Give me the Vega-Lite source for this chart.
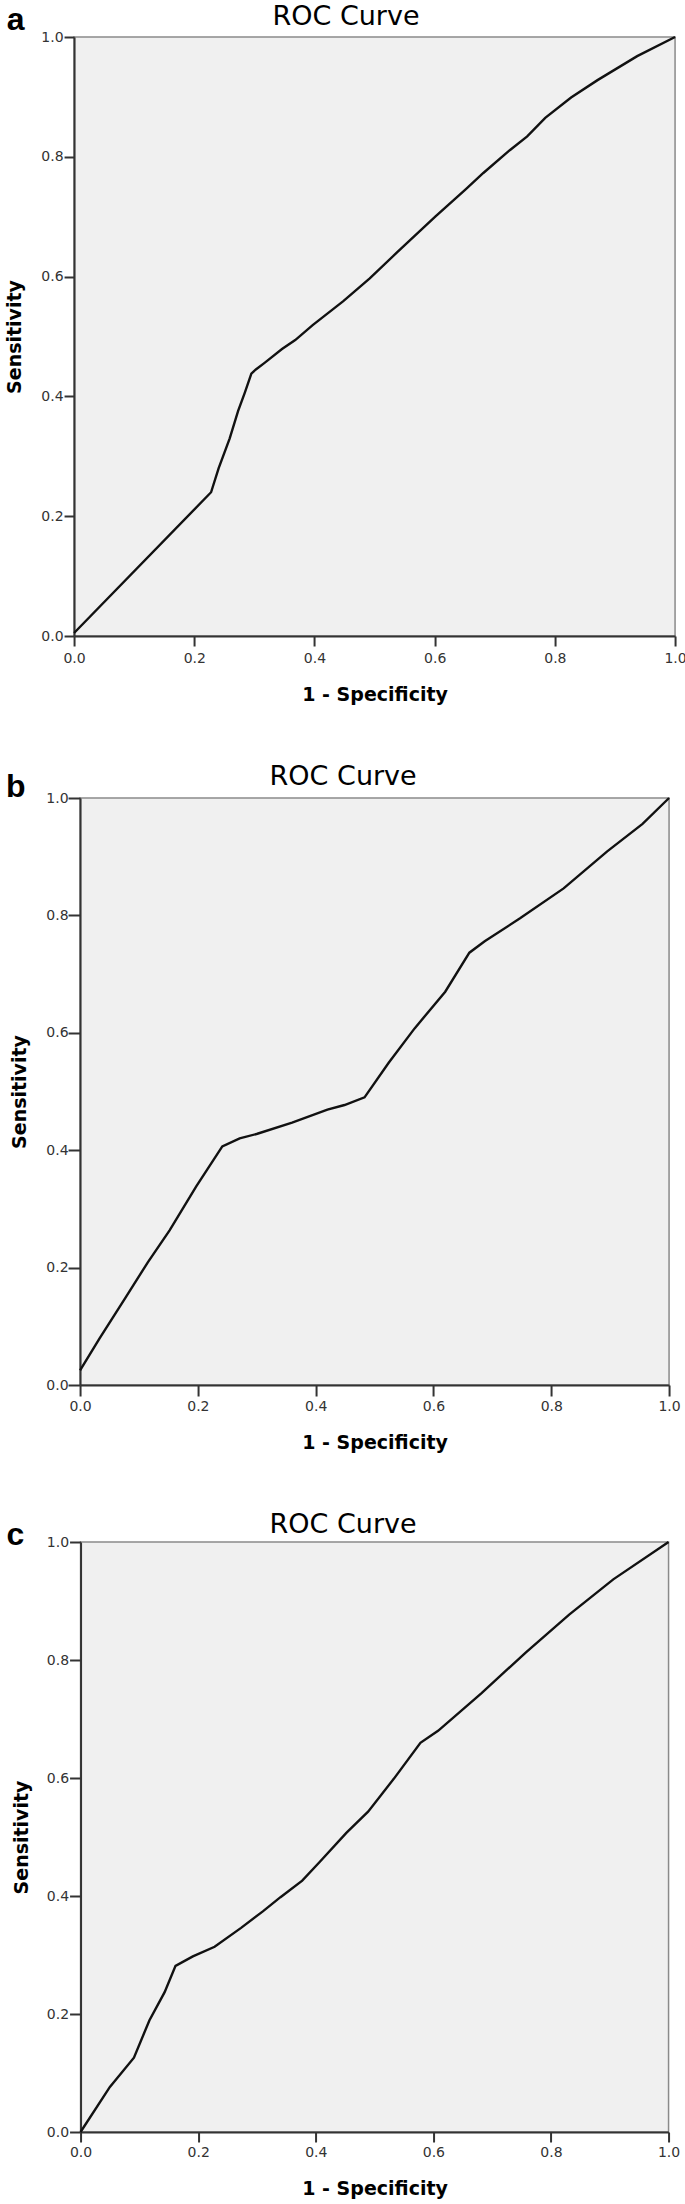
{
  "$schema": "https://vega.github.io/schema/vega-lite/v6.json",
  "padding": {"left": 5, "top": 2, "right": 0, "bottom": 0},
  "background": "white",
  "columns": 1,
  "center": true,
  "spacing": 57,
  "datasets": {
    "roc": [
      {"panel": "a", "fpr": 0, "tpr": 0.005},
      {"panel": "a", "fpr": 0.228, "tpr": 0.24},
      {"panel": "a", "fpr": 0.2405, "tpr": 0.28},
      {"panel": "a", "fpr": 0.259, "tpr": 0.33},
      {"panel": "a", "fpr": 0.273, "tpr": 0.376},
      {"panel": "a", "fpr": 0.284, "tpr": 0.406},
      {"panel": "a", "fpr": 0.295, "tpr": 0.438},
      {"panel": "a", "fpr": 0.3025, "tpr": 0.445},
      {"panel": "a", "fpr": 0.317, "tpr": 0.456},
      {"panel": "a", "fpr": 0.346, "tpr": 0.479},
      {"panel": "a", "fpr": 0.368, "tpr": 0.494},
      {"panel": "a", "fpr": 0.397, "tpr": 0.519},
      {"panel": "a", "fpr": 0.448, "tpr": 0.559},
      {"panel": "a", "fpr": 0.492, "tpr": 0.597},
      {"panel": "a", "fpr": 0.536, "tpr": 0.639},
      {"panel": "a", "fpr": 0.601, "tpr": 0.7},
      {"panel": "a", "fpr": 0.652, "tpr": 0.746},
      {"panel": "a", "fpr": 0.681, "tpr": 0.773},
      {"panel": "a", "fpr": 0.725, "tpr": 0.811},
      {"panel": "a", "fpr": 0.754, "tpr": 0.834},
      {"panel": "a", "fpr": 0.784, "tpr": 0.865},
      {"panel": "a", "fpr": 0.827, "tpr": 0.899},
      {"panel": "a", "fpr": 0.871, "tpr": 0.928},
      {"panel": "a", "fpr": 0.937, "tpr": 0.968},
      {"panel": "a", "fpr": 1, "tpr": 1},
      {"panel": "b", "fpr": 0, "tpr": 0.025},
      {"panel": "b", "fpr": 0.0334, "tpr": 0.0798},
      {"panel": "b", "fpr": 0.078, "tpr": 0.15},
      {"panel": "b", "fpr": 0.115, "tpr": 0.209},
      {"panel": "b", "fpr": 0.152, "tpr": 0.2635},
      {"panel": "b", "fpr": 0.197, "tpr": 0.338},
      {"panel": "b", "fpr": 0.2415, "tpr": 0.4066},
      {"panel": "b", "fpr": 0.271, "tpr": 0.42},
      {"panel": "b", "fpr": 0.301, "tpr": 0.428},
      {"panel": "b", "fpr": 0.36, "tpr": 0.447},
      {"panel": "b", "fpr": 0.42, "tpr": 0.469},
      {"panel": "b", "fpr": 0.449, "tpr": 0.477},
      {"panel": "b", "fpr": 0.483, "tpr": 0.49},
      {"panel": "b", "fpr": 0.524, "tpr": 0.549},
      {"panel": "b", "fpr": 0.568, "tpr": 0.6075},
      {"panel": "b", "fpr": 0.62, "tpr": 0.67},
      {"panel": "b", "fpr": 0.661, "tpr": 0.7365},
      {"panel": "b", "fpr": 0.687, "tpr": 0.756},
      {"panel": "b", "fpr": 0.747, "tpr": 0.795},
      {"panel": "b", "fpr": 0.821, "tpr": 0.846},
      {"panel": "b", "fpr": 0.895, "tpr": 0.909},
      {"panel": "b", "fpr": 0.955, "tpr": 0.956},
      {"panel": "b", "fpr": 1, "tpr": 1},
      {"panel": "c", "fpr": 0, "tpr": 0},
      {"panel": "c", "fpr": 0.0499, "tpr": 0.0764},
      {"panel": "c", "fpr": 0.0908, "tpr": 0.126},
      {"panel": "c", "fpr": 0.117, "tpr": 0.189},
      {"panel": "c", "fpr": 0.143, "tpr": 0.237},
      {"panel": "c", "fpr": 0.1615, "tpr": 0.2816},
      {"panel": "c", "fpr": 0.191, "tpr": 0.2977},
      {"panel": "c", "fpr": 0.228, "tpr": 0.314},
      {"panel": "c", "fpr": 0.273, "tpr": 0.346},
      {"panel": "c", "fpr": 0.31, "tpr": 0.374},
      {"panel": "c", "fpr": 0.34, "tpr": 0.398},
      {"panel": "c", "fpr": 0.377, "tpr": 0.426},
      {"panel": "c", "fpr": 0.407, "tpr": 0.458},
      {"panel": "c", "fpr": 0.452, "tpr": 0.507},
      {"panel": "c", "fpr": 0.489, "tpr": 0.543},
      {"panel": "c", "fpr": 0.533, "tpr": 0.599},
      {"panel": "c", "fpr": 0.578, "tpr": 0.6597},
      {"panel": "c", "fpr": 0.608, "tpr": 0.68},
      {"panel": "c", "fpr": 0.682, "tpr": 0.744},
      {"panel": "c", "fpr": 0.757, "tpr": 0.8125},
      {"panel": "c", "fpr": 0.831, "tpr": 0.877},
      {"panel": "c", "fpr": 0.906, "tpr": 0.9367},
      {"panel": "c", "fpr": 1, "tpr": 1}
    ],
    "labels": [
      {"panel": "a"},
      {"panel": "b"},
      {"panel": "c"}
    ]
  },
  "concat": [
    {
      "width": 601,
      "height": 599,
      "title": {"text": "ROC Curve", "offset": -27},
      "layer": [
        {
          "data": {"name": "roc"},
          "transform": [{"filter": "datum.panel === 'a'"}],
          "mark": {"type": "line", "color": "#111111", "strokeWidth": 2.4},
          "encoding": {
            "x": {"field": "fpr", "type": "quantitative", "scale": {"domain": [0, 1], "nice": false},
                  "axis": {"title": "1 - Specificity", "values": [0, 0.2, 0.4, 0.6, 0.8, 1], "format": ".1f", "tickSize": 10, "labelPadding": 5, "titlePadding": 20}},
            "y": {"field": "tpr", "type": "quantitative", "scale": {"domain": [0, 1], "nice": false},
                  "axis": {"title": "Sensitivity", "values": [0, 0.2, 0.4, 0.6, 0.8, 1], "format": ".1f", "tickSize": 10, "labelPadding": 1, "titlePadding": 16}}
          }
        },
        {
          "data": {"name": "labels"},
          "transform": [{"filter": "datum.panel === 'a'"}],
          "mark": {"type": "text", "align": "left", "baseline": "alphabetic", "font": "Liberation Sans", "fontWeight": "bold", "fontSize": 32, "color": "#000000"},
          "encoding": {
            "text": {"field": "panel"},
            "x": {"datum": -0.112},
            "y": {"datum": 1.0117}
          }
        }
      ]
    },
    {
      "width": 589,
      "height": 587,
      "title": {"text": "ROC Curve", "offset": -20},
      "layer": [
        {
          "data": {"name": "roc"},
          "transform": [{"filter": "datum.panel === 'b'"}],
          "mark": {"type": "line", "color": "#111111", "strokeWidth": 2.4},
          "encoding": {
            "x": {"field": "fpr", "type": "quantitative", "scale": {"domain": [0, 1], "nice": false},
                  "axis": {"title": "1 - Specificity", "values": [0, 0.2, 0.4, 0.6, 0.8, 1], "format": ".1f", "tickSize": 11, "labelPadding": 3, "titlePadding": 20}},
            "y": {"field": "tpr", "type": "quantitative", "scale": {"domain": [0, 1], "nice": false},
                  "axis": {"title": "Sensitivity", "values": [0, 0.2, 0.4, 0.6, 0.8, 1], "format": ".1f", "tickSize": 12, "labelPadding": 0, "titlePadding": 16}}
          }
        },
        {
          "data": {"name": "labels"},
          "transform": [{"filter": "datum.panel === 'b'"}],
          "mark": {"type": "text", "align": "left", "baseline": "alphabetic", "font": "Liberation Sans", "fontWeight": "bold", "fontSize": 32, "color": "#000000"},
          "encoding": {
            "text": {"field": "panel"},
            "x": {"datum": -0.1256},
            "y": {"datum": 1.0017}
          }
        }
      ]
    },
    {
      "width": 588,
      "height": 590,
      "title": {"text": "ROC Curve", "offset": -20},
      "layer": [
        {
          "data": {"name": "roc"},
          "transform": [{"filter": "datum.panel === 'c'"}],
          "mark": {"type": "line", "color": "#111111", "strokeWidth": 2.4},
          "encoding": {
            "x": {"field": "fpr", "type": "quantitative", "scale": {"domain": [0, 1], "nice": false},
                  "axis": {"title": "1 - Specificity", "values": [0, 0.2, 0.4, 0.6, 0.8, 1], "format": ".1f", "tickSize": 10, "labelPadding": 3, "titlePadding": 20}},
            "y": {"field": "tpr", "type": "quantitative", "scale": {"domain": [0, 1], "nice": false},
                  "axis": {"title": "Sensitivity", "values": [0, 0.2, 0.4, 0.6, 0.8, 1], "format": ".1f", "tickSize": 11, "labelPadding": 1, "titlePadding": 15}}
          }
        },
        {
          "data": {"name": "labels"},
          "transform": [{"filter": "datum.panel === 'c'"}],
          "mark": {"type": "text", "align": "left", "baseline": "alphabetic", "font": "Liberation Sans", "fontWeight": "bold", "fontSize": 32, "color": "#000000"},
          "encoding": {
            "text": {"field": "panel"},
            "x": {"datum": -0.1259},
            "y": {"datum": 0.995}
          }
        }
      ]
    }
  ],
  "config": {
    "font": "DejaVu Sans",
    "view": {"fill": "#f0f0f0", "stroke": "#8a8a8a", "strokeWidth": 1.5},
    "axis": {
      "grid": false,
      "domainColor": "#333333",
      "domainWidth": 2,
      "tickColor": "#333333",
      "tickWidth": 2,
      "labelFont": "DejaVu Sans",
      "labelFontSize": 14,
      "labelColor": "#333333",
      "labelFlush": false,
      "labelOverlap": false,
      "titleFont": "DejaVu Sans",
      "titleFontWeight": "bold",
      "titleFontSize": 19,
      "titleColor": "#000000"
    },
    "title": {"font": "DejaVu Sans", "fontSize": 27, "fontWeight": "normal", "color": "#000000", "anchor": "middle", "frame": "bounds"}
  }
}
